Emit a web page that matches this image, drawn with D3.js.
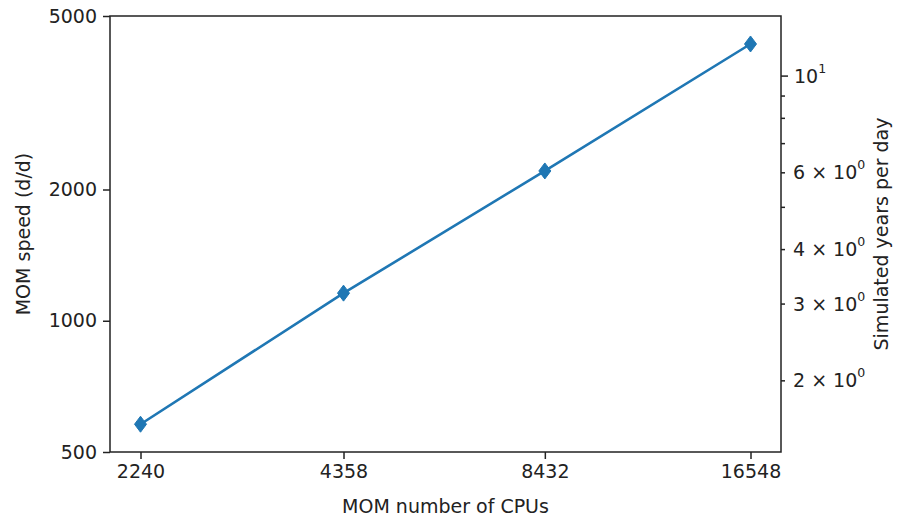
<!DOCTYPE html>
<html>
<head>
<meta charset="utf-8">
<script src="https://cdn.jsdelivr.net/npm/d3@7"></script>
<style>
  body { margin: 0; background: #fff; }
  svg { display: block; font-family: "DejaVu Sans", sans-serif; }
</style>
</head>
<body>
<div id="chart"></div>
<script>
// data
const cpus = [2240, 4358, 8432, 16548]
const speed = [579, 1157, 2206, 4313]   // model days per wall day
const leftTicks = [500, 1000, 2000, 5000]
const speedRange = [500, 5000]
const daysPerYear = 365
const rightMajor = [10]
const rightMinorLabelled = [2, 3, 4, 6]
const rightMinorPlain = [5, 7, 8, 9]

const W = 902, H = 521
const m = { left: 110, right: 781, top: 16, bottom: 452 }
const fs = 19
const ink = '#222'
const blue = '#1f77b4'

const svg = d3.select('#chart').append('svg')
  .attr('width', W).attr('height', H)

// x log scale with 5% margins in log space (like matplotlib)
const lx0 = Math.log10(d3.min(cpus)), lx1 = Math.log10(d3.max(cpus))
const pad = (lx1 - lx0) * 0.05
const x = d3.scaleLog()
  .domain([Math.pow(10, lx0 - pad), Math.pow(10, lx1 + pad)])
  .range([m.left, m.right])

const y = d3.scaleLog().domain(speedRange).range([m.bottom, m.top])
const yr = d3.scaleLog()
  .domain(speedRange.map(d => d / daysPerYear))
  .range([m.bottom, m.top])

// line + markers
const line = d3.line().x(d => x(d[0])).y(d => y(d[1]))
const pts = cpus.map((c, i) => [c, speed[i]])

svg.append('path')
  .datum(pts)
  .attr('d', line)
  .attr('fill', 'none')
  .attr('stroke', blue)
  .attr('stroke-width', 2.6)

const hw = 6, hh = 8
svg.selectAll('path.mk')
  .data(pts)
  .enter()
  .append('path')
  .attr('class', 'mk')
  .attr('d', `M0,${-hh}L${hw},0L0,${hh}L${-hw},0Z`)
  .attr('transform', d => `translate(${x(d[0])},${y(d[1])})`)
  .attr('fill', blue)
  .attr('stroke', blue)
  .attr('stroke-width', 1)

// frame
svg.append('rect')
  .attr('x', m.left).attr('y', m.top)
  .attr('width', m.right - m.left).attr('height', m.bottom - m.top)
  .attr('fill', 'none')
  .attr('stroke', ink)
  .attr('stroke-width', 1.5)

function styleAxis(g) {
  g.select('.domain').remove()
  g.selectAll('.tick line').attr('stroke', ink).attr('stroke-width', 1.5)
  g.selectAll('.tick text')
    .attr('fill', ink)
    .style('font-size', fs + 'px')
    .style('font-family', '"DejaVu Sans", sans-serif')
}

// bottom axis
svg.append('g')
  .attr('transform', `translate(0,${m.bottom})`)
  .call(d3.axisBottom(x).tickValues(cpus).tickFormat(d3.format('d')).tickSize(7).tickPadding(6))
  .call(styleAxis)

// left axis
svg.append('g')
  .attr('transform', `translate(${m.left},0)`)
  .call(d3.axisLeft(y).tickValues(leftTicks).tickFormat(d3.format('d')).tickSize(7).tickPadding(6))
  .call(styleAxis)

// right axis: major, labelled minor, plain minor ticks
const right = svg.append('g').attr('transform', `translate(${m.right},0)`)
right.append('g')
  .call(d3.axisRight(yr).tickValues(rightMajor).tickFormat('').tickSize(7))
  .call(styleAxis)
right.append('g')
  .call(d3.axisRight(yr).tickValues(rightMinorLabelled.concat(rightMinorPlain)).tickFormat('').tickSize(4))
  .call(styleAxis)

function sciLabel(sel, mant, exp) {
  const t = sel.append('text')
    .attr('fill', ink)
    .style('font-size', fs + 'px')
    .attr('dominant-baseline', 'central')
  if (mant !== null) t.append('tspan').text(mant + ' \u00d7 ')
  t.append('tspan').text('10')
  t.append('tspan').text(exp)
    .attr('dy', -8)
    .style('font-size', (fs * 0.66) + 'px')
}

rightMajor.forEach(v => {
  const g = right.append('g').attr('transform', `translate(13,${yr(v)})`)
  sciLabel(g, null, Math.round(Math.log10(v)))
})
rightMinorLabelled.forEach(v => {
  const g = right.append('g').attr('transform', `translate(12,${yr(v)})`)
  sciLabel(g, v, 0)
})

// axis labels
svg.append('text')
  .attr('x', (m.left + m.right) / 2)
  .attr('y', 513)
  .attr('text-anchor', 'middle')
  .attr('fill', ink)
  .style('font-size', fs + 'px')
  .text('MOM number of CPUs')

svg.append('text')
  .attr('transform', `translate(30,${(m.top + m.bottom) / 2}) rotate(-90)`)
  .attr('text-anchor', 'middle')
  .attr('fill', ink)
  .style('font-size', fs + 'px')
  .text('MOM speed (d/d)')

svg.append('text')
  .attr('transform', `translate(888,${(m.top + m.bottom) / 2}) rotate(-90)`)
  .attr('text-anchor', 'middle')
  .attr('fill', ink)
  .style('font-size', fs + 'px')
  .text('Simulated years per day')
</script>
</body>
</html>
